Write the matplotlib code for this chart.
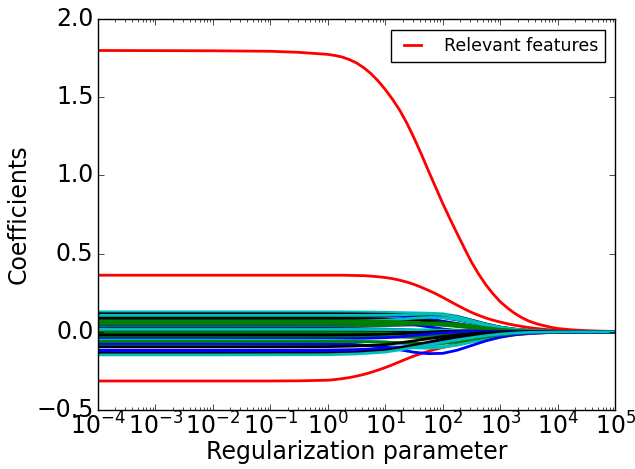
import numpy as np
import matplotlib
matplotlib.use("Agg")
import matplotlib.pyplot as plt

plt.style.use("classic")

# log10 of regularization parameter for the relevant-feature paths
red_exp = [-4, -3, -2, -1, -0.5,
           0, 0.125, 0.25, 0.375, 0.5, 0.625, 0.75, 0.875,
           1.0, 1.125, 1.25, 1.375, 1.5, 1.625, 1.75, 1.875,
           2.0, 2.125, 2.25, 2.375, 2.5, 2.625, 2.75, 2.875,
           3.0, 3.125, 3.25, 3.375, 3.5, 3.625, 3.75, 3.875,
           4.0, 4.25, 4.5, 4.75, 5.0]
red_big = [1.800, 1.799, 1.798, 1.795, 1.788,
           1.775, 1.768, 1.758, 1.742, 1.720, 1.690, 1.652, 1.605,
           1.550, 1.488, 1.418, 1.335, 1.240, 1.138, 1.030, 0.925,
           0.820, 0.722, 0.628, 0.535, 0.445, 0.368, 0.300, 0.242,
           0.192, 0.152, 0.118, 0.090, 0.068, 0.052, 0.040, 0.029,
           0.021, 0.012, 0.007, 0.004, 0.002]
red_mid = [0.362, 0.362, 0.362, 0.362, 0.362,
           0.362, 0.362, 0.362, 0.361, 0.360, 0.359, 0.356, 0.352,
           0.347, 0.340, 0.330, 0.318, 0.303, 0.285, 0.265, 0.244,
           0.220, 0.195, 0.170, 0.146, 0.124, 0.105, 0.088, 0.074,
           0.062, 0.051, 0.042, 0.034, 0.027, 0.021, 0.016, 0.012,
           0.009, 0.005, 0.003, 0.002, 0.001]
red_low = [-0.315, -0.315, -0.315, -0.315, -0.314,
           -0.310, -0.306, -0.300, -0.293, -0.284, -0.273, -0.260, -0.245,
           -0.229, -0.211, -0.192, -0.173, -0.155, -0.139, -0.125, -0.112,
           -0.100, -0.089, -0.079, -0.069, -0.060, -0.052, -0.044, -0.037,
           -0.031, -0.025, -0.020, -0.016, -0.012, -0.009, -0.007, -0.005,
           -0.004, -0.002, -0.001, -0.0005, 0.0]

# log10 of regularization parameter for the noise-feature paths
noise_exp = [-4, -2, 0, 0.5, 1.0, 1.25, 1.5, 1.75, 2.0, 2.25, 2.5, 2.75, 3.0, 3.25, 3.5, 4.0, 5.0]
noise_colors = ["c", "k", "b", "k", "c", "b", "k", "b", "c", "g", "g", "b", "k", "c",
                "g", "g", "g", "g", "k", "b", "c", "c", "b", "g", "b", "k", "b", "k", "c"]
noise_paths = [
    [0.128, 0.128, 0.128, 0.127, 0.125, 0.123, 0.121, 0.119, 0.115, 0.100, 0.075, 0.050, 0.030, 0.017, 0.008, 0.002, 0.0],
    [0.096, 0.096, 0.097, 0.098, 0.100, 0.103, 0.106, 0.109, 0.108, 0.096, 0.074, 0.050, 0.030, 0.017, 0.009, 0.003, 0.0],
    [0.111, 0.111, 0.110, 0.108, 0.104, 0.099, 0.092, 0.082, 0.068, 0.053, 0.038, 0.025, 0.015, 0.009, 0.004, 0.001, 0.0],
    [0.115, 0.115, 0.115, 0.114, 0.112, 0.110, 0.107, 0.101, 0.091, 0.076, 0.058, 0.040, 0.025, 0.014, 0.007, 0.002, 0.0],
    [0.105, 0.105, 0.105, 0.105, 0.106, 0.108, 0.111, 0.113, 0.110, 0.095, 0.072, 0.048, 0.029, 0.016, 0.008, 0.002, 0.0],
    [0.075, 0.075, 0.074, 0.071, 0.064, 0.056, 0.045, 0.032, 0.018, 0.006, -0.002, -0.004, -0.003, -0.002, -0.001, 0.0, 0.0],
    [0.085, 0.085, 0.085, 0.084, 0.082, 0.079, 0.075, 0.069, 0.060, 0.048, 0.035, 0.023, 0.014, 0.008, 0.004, 0.001, 0.0],
    [0.040, 0.040, 0.040, 0.040, 0.041, 0.042, 0.044, 0.045, 0.044, 0.038, 0.029, 0.020, 0.012, 0.007, 0.003, 0.001, 0.0],
    [0.065, 0.065, 0.066, 0.068, 0.074, 0.080, 0.087, 0.092, 0.090, 0.078, 0.060, 0.041, 0.025, 0.014, 0.007, 0.002, 0.0],
    [0.054, 0.054, 0.054, 0.053, 0.052, 0.051, 0.050, 0.047, 0.042, 0.034, 0.025, 0.016, 0.010, 0.005, 0.003, 0.001, 0.0],
    [0.032, 0.032, 0.033, 0.035, 0.040, 0.045, 0.051, 0.056, 0.057, 0.050, 0.038, 0.026, 0.016, 0.009, 0.004, 0.001, 0.0],
    [0.020, 0.020, 0.020, 0.019, 0.017, 0.014, 0.010, 0.005, 0.000, -0.004, -0.006, -0.005, -0.004, -0.002, -0.001, 0.0, 0.0],
    [0.004, 0.004, 0.004, 0.004, 0.005, 0.006, 0.008, 0.010, 0.011, 0.010, 0.008, 0.005, 0.003, 0.002, 0.001, 0.0, 0.0],
    [0.015, 0.015, 0.015, 0.015, 0.014, 0.014, 0.013, 0.012, 0.010, 0.008, 0.006, 0.004, 0.002, 0.001, 0.001, 0.0, 0.0],
    [-0.005, -0.005, -0.005, -0.006, -0.008, -0.010, -0.012, -0.013, -0.013, -0.011, -0.008, -0.005, -0.003, -0.002, -0.001, 0.0, 0.0],
    [-0.011, -0.011, -0.011, -0.012, -0.014, -0.017, -0.020, -0.023, -0.024, -0.021, -0.016, -0.011, -0.007, -0.004, -0.002, -0.001, 0.0],
    [-0.032, -0.032, -0.032, -0.032, -0.033, -0.034, -0.036, -0.038, -0.038, -0.033, -0.025, -0.017, -0.010, -0.006, -0.003, -0.001, 0.0],
    [0.070, 0.070, 0.070, 0.069, 0.067, 0.064, 0.060, 0.054, 0.046, 0.036, 0.026, 0.017, 0.010, 0.006, 0.003, 0.001, 0.0],
    [-0.020, -0.020, -0.020, -0.019, -0.016, -0.012, -0.007, -0.002, 0.002, 0.004, 0.004, 0.003, 0.002, 0.001, 0.0, 0.0, 0.0],
    [-0.045, -0.045, -0.045, -0.043, -0.038, -0.032, -0.024, -0.015, -0.007, -0.001, 0.002, 0.002, 0.001, 0.001, 0.0, 0.0, 0.0],
    [-0.054, -0.054, -0.055, -0.058, -0.065, -0.073, -0.083, -0.092, -0.095, -0.085, -0.066, -0.045, -0.028, -0.016, -0.008, -0.002, 0.0],
    [-0.085, -0.085, -0.086, -0.088, -0.093, -0.098, -0.103, -0.105, -0.100, -0.085, -0.064, -0.043, -0.026, -0.015, -0.007, -0.002, 0.0],
    [-0.075, -0.075, -0.076, -0.082, -0.098, -0.115, -0.131, -0.140, -0.138, -0.118, -0.088, -0.058, -0.035, -0.019, -0.010, -0.003, 0.0],
    [-0.062, -0.062, -0.062, -0.063, -0.066, -0.070, -0.074, -0.077, -0.075, -0.065, -0.050, -0.034, -0.021, -0.012, -0.006, -0.002, 0.0],
    [-0.118, -0.118, -0.117, -0.114, -0.107, -0.099, -0.089, -0.076, -0.062, -0.047, -0.034, -0.022, -0.013, -0.008, -0.004, -0.001, 0.0],
    [-0.096, -0.096, -0.095, -0.091, -0.082, -0.071, -0.058, -0.044, -0.031, -0.020, -0.012, -0.007, -0.004, -0.002, -0.001, 0.0, 0.0],
    [-0.128, -0.128, -0.127, -0.124, -0.116, -0.106, -0.094, -0.080, -0.064, -0.048, -0.034, -0.022, -0.013, -0.007, -0.004, -0.001, 0.0],
    [-0.139, -0.139, -0.138, -0.133, -0.120, -0.104, -0.085, -0.066, -0.048, -0.033, -0.022, -0.014, -0.008, -0.004, -0.002, -0.001, 0.0],
    [-0.148, -0.148, -0.147, -0.142, -0.130, -0.116, -0.100, -0.084, -0.068, -0.052, -0.038, -0.025, -0.015, -0.008, -0.004, -0.001, 0.0],
]

x_label = "Regularization parameter"
y_label = "Coefficients"
legend_label = "Relevant features"

fig = plt.figure(figsize=(6.35, 4.69), dpi=100, facecolor="white")
ax = fig.add_axes([0.154, 0.126, 0.815, 0.833])

red_alpha = 10.0 ** np.array(red_exp)
noise_alpha = 10.0 ** np.array(noise_exp)

ax.plot(red_alpha, red_big, color="r", lw=2, label=legend_label)
ax.plot(red_alpha, red_mid, color="r", lw=2)
ax.plot(red_alpha, red_low, color="r", lw=2)
for col, path in zip(noise_colors, noise_paths):
    ax.plot(noise_alpha, path, color=col, lw=2)

ax.set_xscale("log")
ax.set_xlim(1e-4, 1e5)
ax.set_ylim(-0.5, 2.0)
ax.set_yticks([-0.5, 0.0, 0.5, 1.0, 1.5, 2.0])
ax.set_xticks([10.0 ** k for k in range(-4, 6)])
ax.tick_params(labelsize=17)
ax.tick_params(axis="x", which="both", pad=2)
ax.tick_params(axis="y", which="both", pad=3)
ax.set_xlabel(x_label, fontsize=17, labelpad=0)
ax.set_ylabel(y_label, fontsize=17, labelpad=4)
leg = ax.legend(loc="upper right", fontsize=12.5, handlelength=1.6,
                handletextpad=1.0, borderpad=0.4, borderaxespad=0.6)
leg.get_frame().set_edgecolor("black")

fig.savefig("out.png", dpi=100, facecolor="white")
